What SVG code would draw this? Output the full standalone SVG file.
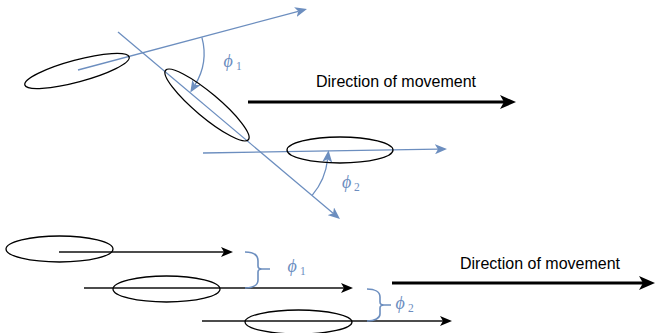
<svg xmlns="http://www.w3.org/2000/svg" width="655" height="333" viewBox="0 0 655 333">
<style>
.ell{fill:none;stroke:#000;stroke-width:1.3}
.blue{fill:none;stroke:#6c8ebf;stroke-width:1.3}
.brace{fill:none;stroke:#6c8ebf;stroke-width:1.6}
.thin{fill:none;stroke:#111;stroke-width:1.3}
.thick{fill:none;stroke:#000;stroke-width:3}
.lbl{font-family:"Liberation Sans",Arial,sans-serif;font-size:16px;fill:#000}
.phi{font-family:"Liberation Serif","DejaVu Serif",serif;font-style:italic;font-size:18px;fill:#6c8ebf}
.sub{font-family:"Liberation Serif","DejaVu Serif",serif;font-size:11.5px;fill:#6c8ebf}
</style>
<defs>
<marker id="ab" markerUnits="userSpaceOnUse" markerWidth="12" markerHeight="10" viewBox="0 0 12 10" refX="3" refY="5" orient="auto"><path d="M0,0 L12,5 L0,10 L3,5 Z" fill="#6c8ebf"/></marker>
<marker id="ak" markerUnits="userSpaceOnUse" markerWidth="12" markerHeight="10" viewBox="0 0 12 10" refX="3" refY="5" orient="auto"><path d="M0,0 L12,5 L0,10 L3,5 Z" fill="#000"/></marker>
<marker id="aK" markerUnits="userSpaceOnUse" markerWidth="16" markerHeight="14" viewBox="0 0 16 14" refX="4" refY="7" orient="auto"><path d="M0,0 L16,7 L0,14 L4,7 Z" fill="#000"/></marker>
</defs>
<g id="connectors">
<path class="blue" d="M78,70 L298.3,11.3" marker-end="url(#ab)"/>
<path class="blue" d="M118,32 L333.1,213.2" marker-end="url(#ab)"/>
<path class="blue" d="M203,153 L438,149.2" marker-end="url(#ab)"/>
<path class="blue" d="M201.9,37.3 A61,61 0 0 1 195,84.9" marker-end="url(#ab)"/>
<path class="blue" d="M312.3,195.1 A67,67 0 0 0 327.6,159.2" marker-end="url(#ab)"/>
<path class="thick" d="M248,102 L504,102" marker-end="url(#aK)"/>
<path class="thick" d="M392,283 L643,283" marker-end="url(#aK)"/>
<path class="thin" d="M59,252 L224,252" marker-end="url(#ak)"/>
<path class="thin" d="M84,288 L344,288" marker-end="url(#ak)"/>
<path class="thin" d="M202,321 L443,321" marker-end="url(#ak)"/>
<path class="brace" d="M245,252 C253,252 258,255 258,261 L258,266 Q258,269 262,269 L270,269 M262,269 Q258,269 258,272 L258,280 C258,285 253,288 245,288"/>
<path class="brace" d="M367,289 C375,289 380,292 380,297 L380,302 Q380,305 384,305 L391,305 M384,305 Q380,305 380,308 L380,314 C380,318 375,321 367,321"/>
</g>
<g id="ellipse1"><ellipse class="ell" cx="77" cy="71" rx="54" ry="11" transform="rotate(-15 77 71)"/></g>
<g id="ellipse2"><ellipse class="ell" cx="207" cy="105" rx="54" ry="12" transform="rotate(40 207 105)"/></g>
<g id="ellipse3"><ellipse class="ell" cx="340" cy="150" rx="53" ry="13"/></g>
<g id="ellipseA"><ellipse class="ell" cx="59.5" cy="249" rx="53.5" ry="13"/></g>
<g id="ellipseB"><ellipse class="ell" cx="166.5" cy="289" rx="53.5" ry="13"/></g>
<g id="ellipseC"><ellipse class="ell" cx="298.5" cy="322" rx="53.5" ry="12"/></g>
<g id="label-dir1"><text class="lbl" x="396" y="87" text-anchor="middle">Direction of movement</text></g>
<g id="label-dir2"><text class="lbl" x="540" y="269" text-anchor="middle">Direction of movement</text></g>
<g id="label-phi1-top"><text class="phi" x="223.5" y="67">ϕ</text><text class="sub" x="236" y="70">1</text></g>
<g id="label-phi2-top"><text class="phi" x="342" y="188">ϕ</text><text class="sub" x="354" y="191">2</text></g>
<g id="label-phi1-bot"><text class="phi" x="287.5" y="272">ϕ</text><text class="sub" x="300" y="275">1</text></g>
<g id="label-phi2-bot"><text class="phi" x="395.5" y="309">ϕ</text><text class="sub" x="408" y="312">2</text></g>
</svg>
